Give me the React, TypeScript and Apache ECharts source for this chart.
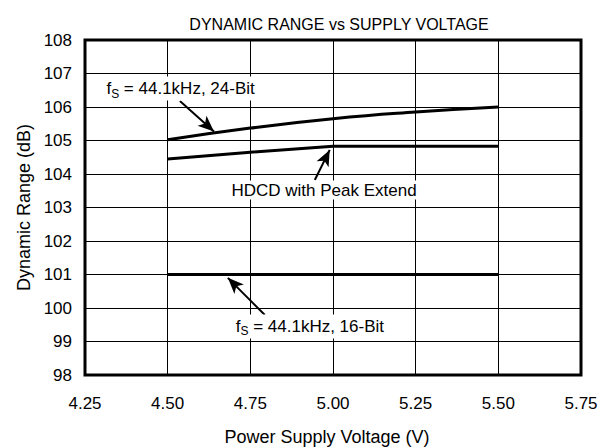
import React, { useEffect, useRef } from "react";
import * as echarts from "echarts";

const voltages24 = [4.5, 4.75, 5.0, 5.25, 5.5];
const range24 = [105.02, 105.37, 105.65, 105.85, 106.0];
const voltagesHdcd = [4.5, 4.75, 5.0, 5.25, 5.5];
const rangeHdcd = [104.45, 104.65, 104.83, 104.83, 104.83];
const voltages16 = [4.5, 5.5];
const range16 = [101.0, 101.0];

const xTicks = { min: 4.25, max: 5.75, interval: 0.25 };
const yTicks = { min: 98, max: 108, interval: 1 };

const FONT = "Liberation Sans, Arial, Helvetica, sans-serif";

function pairs(xs: number[], ys: number[]) {
  return xs.map((x, i) => [x, ys[i]]);
}

const richStyles = {
  m: { fontSize: 17, color: "#000", fontFamily: FONT },
  s: { fontSize: 12, color: "#000", fontFamily: FONT, padding: [10, 0, 0, 0] },
};

export default function App() {
  const ref = useRef<HTMLDivElement>(null);
  useEffect(() => {
    if (!ref.current) return;
    const chart = echarts.init(ref.current, undefined, { renderer: "svg" });
    const arrowLine = (from: number[], to: number[]) => ({
      silent: true,
      symbol: ["none", "arrow"],
      symbolSize: [10, 16],
      lineStyle: { color: "#000", width: 2, type: "solid" },
      label: { show: false },
      data: [[{ coord: from }, { coord: to }]],
    });
    const textPoint = (coord: number[], text: string) => ({
      silent: true,
      symbol: "circle",
      symbolSize: 1,
      itemStyle: { color: "rgba(0,0,0,0)" },
      label: {
        show: true,
        position: "inside",
        formatter: text,
        backgroundColor: "#fff",
        padding: [1, 3],
        rich: richStyles,
        fontSize: 17,
        color: "#000",
        fontFamily: FONT,
      },
      data: [{ coord }],
    });
    chart.setOption({
      animation: false,
      backgroundColor: "#fff",
      title: {
        text: "DYNAMIC RANGE vs SUPPLY VOLTAGE",
        left: 334,
        top: 11,
        textAlign: "center",
        textStyle: { fontSize: 16, fontWeight: "normal", color: "#000", fontFamily: FONT },
      },
      grid: {
        left: 85,
        right: 21,
        top: 40,
        bottom: 73,
        show: true,
        borderColor: "#000",
        borderWidth: 3,
        containLabel: false,
        outerBoundsMode: "none",
      },
      xAxis: {
        type: "value",
        min: xTicks.min,
        max: xTicks.max,
        interval: xTicks.interval,
        name: "Power Supply Voltage (V)",
        nameLocation: "middle",
        nameGap: 53,
        nameTextStyle: { fontSize: 18, color: "#000", fontFamily: FONT, padding: [0, 12, 0, 0] },
        axisLine: { show: false },
        axisTick: { show: false },
        axisLabel: {
          color: "#000",
          fontSize: 17,
          fontFamily: FONT,
          margin: 20,
          formatter: (v: number) => v.toFixed(2),
        },
        splitLine: { show: true, lineStyle: { color: "#000", width: 1 } },
      },
      yAxis: {
        type: "value",
        min: yTicks.min,
        max: yTicks.max,
        interval: yTicks.interval,
        name: "Dynamic Range (dB)",
        nameLocation: "middle",
        nameGap: 52,
        nameTextStyle: { fontSize: 18, color: "#000", fontFamily: FONT },
        axisLine: { show: false },
        axisTick: { show: false },
        axisLabel: { color: "#000", fontSize: 17, fontFamily: FONT, margin: 13 },
        splitLine: { show: true, lineStyle: { color: "#000", width: 1 } },
      },
      series: [
        {
          type: "line",
          data: pairs(voltages24, range24),
          smooth: true,
          showSymbol: false,
          lineStyle: { color: "#000", width: 3 },
          markLine: arrowLine([4.537, 106.18], [4.64, 105.27]),
          markPoint: textPoint([4.539, 106.55], "{m|f}{s|S}{m| = 44.1kHz, 24-Bit}"),
        },
        {
          type: "line",
          data: pairs(voltagesHdcd, rangeHdcd),
          showSymbol: false,
          lineStyle: { color: "#000", width: 3 },
          markLine: arrowLine([4.945, 103.82], [4.99, 104.72]),
          markPoint: textPoint([4.973, 103.52], "{m|HDCD with Peak Extend}"),
        },
        {
          type: "line",
          data: pairs(voltages16, range16),
          showSymbol: false,
          lineStyle: { color: "#000", width: 3 },
          markLine: arrowLine([4.794, 99.79], [4.682, 100.9]),
          markPoint: textPoint([4.93, 99.45], "{m|f}{s|S}{m| = 44.1kHz, 16-Bit}"),
        },
      ],
    });
    return () => chart.dispose();
  }, []);
  return (
    <div
      ref={ref}
      style={{ position: "absolute", left: 0, top: 0, width: 602, height: 448 }}
    />
  );
}
